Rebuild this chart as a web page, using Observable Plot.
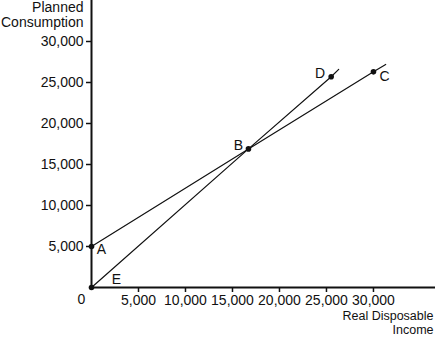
<!DOCTYPE html>
<html>
<head>
<meta charset="utf-8">
<script src="https://cdn.jsdelivr.net/npm/d3@7"></script>
<script src="https://cdn.jsdelivr.net/npm/@observablehq/plot@0.6"></script>
<style>
  html, body { margin: 0; padding: 0; background: #fff; }
  svg { display: block; }
</style>
</head>
<body>
<div id="chart"></div>
<script>
// Labelled points
const pointNames  = ["A", "B", "C", "D", "E"];
const pointIncome = [0, 16700, 30000, 25500, 0];
const pointCons   = [5000, 16900, 26300, 25700, 0];

// Consumption function (through A, B, C)
const consFnIncome = [0, 16700, 30000, 31300];
const consFnCons   = [5000, 16900, 26300, 27200];

// 45-degree line (through E, B, D)
const fortyFiveIncome = [0, 16700, 25500, 26300];
const fortyFiveCons   = [0, 16900, 25700, 26600];

const xTicks = [5000, 10000, 15000, 20000, 25000, 30000];
const yTicks = [5000, 10000, 15000, 20000, 25000, 30000];
const xLabel = "Real Disposable\nIncome";
const yLabel = "Planned\nConsumption";

// label offsets per point (style only)
const labelOffsets = {A: [10, 3], B: [-10, -3], C: [11, 5], D: [-11, -3], E: [25, -8]};

const points = pointNames.map((n, i) => ({name: n, x: pointIncome[i], y: pointCons[i]}));
const line1 = consFnIncome.map((x, i) => ({x, y: consFnCons[i]}));
const line2 = fortyFiveIncome.map((x, i) => ({x, y: fortyFiveCons[i]}));
const fmt = d3.format(",");
const FS = 14;

const chart = Plot.plot({
  width: 435,
  height: 339,
  marginLeft: 91,
  marginRight: 0,
  marginTop: 0,
  marginBottom: 52,
  style: {fontFamily: "'Liberation Sans', Arial, sans-serif", fontSize: FS + "px", color: "#111", background: "#fff"},
  x: {domain: [0, 36600]},
  y: {domain: [0, 35000]},
  marks: [
    Plot.axisX({ticks: xTicks, tickSize: 5, tickPadding: 3, tickFormat: fmt, label: null, fontSize: FS, strokeWidth: 1.5}),
    Plot.axisY({ticks: yTicks, tickSize: 5, tickPadding: 3, tickFormat: fmt, label: null, fontSize: FS, strokeWidth: 1.5}),
    Plot.ruleX([0], {stroke: "#111", strokeWidth: 2}),
    Plot.ruleY([0], {stroke: "#111", strokeWidth: 2}),
    Plot.text(["0"], {x: 0, y: 0, text: d => d, dx: -10, dy: 12, fontSize: FS}),
    Plot.line(line1, {x: "x", y: "y", stroke: "#111", strokeWidth: 1.2}),
    Plot.line(line2, {x: "x", y: "y", stroke: "#111", strokeWidth: 1.2}),
    Plot.dot(points, {x: "x", y: "y", r: 2.8, fill: "#111"}),
    ...pointNames.map(n => Plot.text(points.filter(p => p.name === n), {
      x: "x", y: "y", text: "name", dx: labelOffsets[n][0], dy: labelOffsets[n][1], fontSize: FS
    })),
    Plot.text([yLabel], {frameAnchor: "top-left", text: d => d, dx: -8, dy: 1, textAnchor: "end", lineAnchor: "top", lineHeight: 1.05, fontSize: FS}),
    Plot.text([xLabel], {frameAnchor: "bottom-right", text: d => d, dx: -2, dy: 23, textAnchor: "end", lineAnchor: "top", lineHeight: 1.12, fontSize: 12.5})
  ]
});
document.getElementById("chart").appendChild(chart);
</script>
</body>
</html>
